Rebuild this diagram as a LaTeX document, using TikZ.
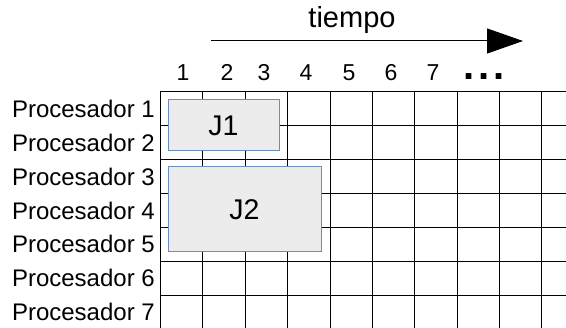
\documentclass[tikz,border=0pt]{standalone}
\usepackage{fontspec}
\setmainfont{Liberation Sans}
\usetikzlibrary{arrows.meta}
\definecolor{boxfill}{RGB}{236,236,236}
\definecolor{boxdraw}{RGB}{108,142,191}
\begin{document}
\begin{tikzpicture}[x=1pt,y=-1pt,
  gridline/.style={draw=black,line width=0.8pt},
  jobbox/.style={draw=boxdraw,fill=boxfill,line width=1pt,inner sep=0pt,
    font=\fontsize{28.5}{31}\selectfont},
  proclabel/.style={anchor=base east,inner sep=0pt,font=\fontsize{24}{27}\selectfont},
  timelabel/.style={anchor=base,inner sep=0pt,font=\fontsize{23}{26}\selectfont},
  titlelabel/.style={anchor=base,inner sep=0pt,font=\fontsize{29}{32}\selectfont},
  timearrow/.style={line width=1pt,-{Triangle[length=36pt,width=25pt]}}]
\useasboundingbox (0,0) rectangle (566,328);
% grid
\foreach \k in {0,...,6} {
  \draw[gridline] (160.5,{91+34.1*\k}) -- (566,{91+34.1*\k});
}
\foreach \k in {0,...,9} {
  \draw[gridline] ({160.5+42.35*\k},91) -- ({160.5+42.35*\k},328);
}
% jobs
\node[jobbox,minimum width=111pt,minimum height=51pt] (J1) at (223.5,125.5) {J1};
\node[jobbox,minimum width=153pt,minimum height=85pt] (J2) at (244.5,209.5) {J2};
% processor labels
\foreach \k in {1,...,7} {
  \node[proclabel] (p\k) at (155,{118+33.7*(\k-1)}) {Procesador \k};
}
% time labels
\node[timelabel] (t1) at (183,81) {1};
\node[timelabel] (t2) at (227,81) {2};
\node[timelabel] (t3) at (264,81) {3};
\node[timelabel] (t4) at (306,81) {4};
\node[timelabel] (t5) at (349,81) {5};
\node[timelabel] (t6) at (391,81) {6};
\node[timelabel] (t7) at (433,81) {7};
\node[anchor=base,inner sep=0pt,font=\fontsize{40}{40}\bfseries\selectfont] (dots) at (484,80) {.\kern3.5pt.\kern3.5pt.};
% title and arrow
\node[titlelabel] (tiempo) at (352,28) {tiempo};
\coordinate (a0) at (211,41);
\coordinate (a1) at (523,41);
\draw[timearrow] (a0) -- (a1);
\end{tikzpicture}
\end{document}
